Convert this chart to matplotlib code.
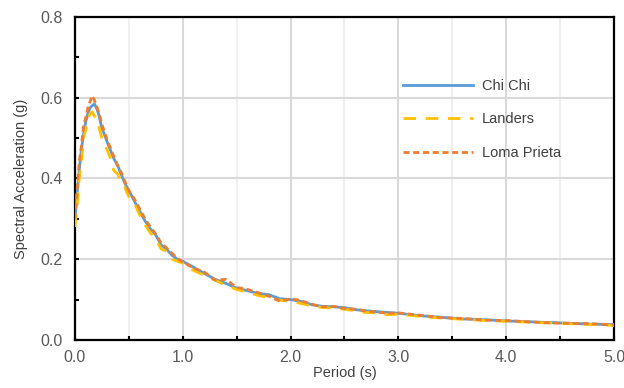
import matplotlib
matplotlib.use("Agg")
import matplotlib.pyplot as plt
from matplotlib.ticker import MultipleLocator, FormatStrFormatter

# Response spectra
periods = [0.0, 0.02, 0.04, 0.06, 0.08, 0.1, 0.12, 0.14, 0.16, 0.18, 0.2, 0.22,
           0.25, 0.28, 0.3, 0.33, 0.36, 0.4, 0.43, 0.46, 0.5, 0.55, 0.6, 0.65,
           0.7, 0.75, 0.8, 0.85, 0.9, 0.95, 1.0, 1.1, 1.2, 1.3, 1.4, 1.5, 1.6,
           1.7, 1.8, 1.9, 2.0, 2.1, 2.2, 2.3, 2.4, 2.5, 2.6, 2.7, 2.8, 2.9, 3.0,
           3.2, 3.4, 3.6, 3.8, 4.0, 4.2, 4.4, 4.6, 4.8, 5.0]

chi_chi = [0.30, 0.36, 0.42, 0.47, 0.51, 0.54, 0.56, 0.575, 0.58, 0.585, 0.575, 0.56,
           0.525, 0.505, 0.49, 0.47, 0.45, 0.43, 0.41, 0.39, 0.37, 0.345, 0.32, 0.295,
           0.275, 0.26, 0.235, 0.225, 0.21, 0.20, 0.195, 0.18, 0.165, 0.15, 0.14, 0.128, 0.122,
           0.115, 0.112, 0.102, 0.100, 0.095, 0.087, 0.083, 0.082, 0.080, 0.075, 0.072, 0.070, 0.068, 0.066,
           0.060, 0.056, 0.052, 0.050, 0.047, 0.045, 0.043, 0.041, 0.039, 0.038]

landers = [0.28, 0.33, 0.40, 0.44, 0.50, 0.52, 0.545, 0.56, 0.565, 0.555, 0.55, 0.53,
           0.50, 0.48, 0.47, 0.45, 0.42, 0.41, 0.385, 0.38, 0.355, 0.34, 0.31, 0.285,
           0.265, 0.25, 0.225, 0.22, 0.20, 0.195, 0.19, 0.172, 0.16, 0.148, 0.135, 0.125, 0.118,
           0.11, 0.105, 0.098, 0.097, 0.09, 0.084, 0.08, 0.079, 0.076, 0.072, 0.068, 0.067, 0.062, 0.064,
           0.058, 0.054, 0.051, 0.048, 0.046, 0.044, 0.042, 0.040, 0.038, 0.036]

loma_prieta = [0.30, 0.37, 0.44, 0.48, 0.53, 0.55, 0.575, 0.59, 0.605, 0.595, 0.58, 0.565,
               0.535, 0.51, 0.495, 0.475, 0.455, 0.43, 0.415, 0.395, 0.37, 0.35, 0.325, 0.30,
               0.28, 0.262, 0.24, 0.228, 0.215, 0.202, 0.193, 0.178, 0.168, 0.148, 0.150, 0.13, 0.125,
               0.117, 0.108, 0.096, 0.102, 0.097, 0.088, 0.082, 0.083, 0.078, 0.076, 0.072, 0.069, 0.066, 0.067,
               0.061, 0.055, 0.053, 0.049, 0.048, 0.045, 0.042, 0.041, 0.040, 0.037]


def plot_spectra():
    plt.rcParams["font.family"] = ["Liberation Sans", "DejaVu Sans"]
    fig = plt.figure(figsize=(6.24, 3.88), dpi=100)
    ax = fig.add_axes([0.120, 0.124, 0.864, 0.832])

    ax.plot(periods, chi_chi, color="#5B9BD5", lw=2.0, label="Chi Chi", zorder=3)
    ax.plot(periods, landers, color="#FFC000", lw=2.0, dashes=(4.5, 3.5), label="Landers", zorder=3)
    ax.plot(periods, loma_prieta, color="#ED7D31", lw=2.0, dashes=(2.2, 1.3), label="Loma Prieta", zorder=4)

    ax.set_xlim(0, 5)
    ax.set_ylim(0, 0.8)
    ax.xaxis.set_major_locator(MultipleLocator(1.0))
    ax.xaxis.set_minor_locator(MultipleLocator(0.5))
    ax.yaxis.set_major_locator(MultipleLocator(0.2))
    ax.yaxis.set_minor_locator(MultipleLocator(0.1))
    ax.xaxis.set_major_formatter(FormatStrFormatter("%.1f"))
    ax.yaxis.set_major_formatter(FormatStrFormatter("%.1f"))

    ax.grid(which="major", axis="both", color="#D9D9D9", lw=1.5, zorder=0)
    ax.grid(which="minor", axis="x", color="#F0F0F0", lw=1.5, zorder=0)
    ax.set_axisbelow(True)

    for s in ax.spines.values():
        s.set_linewidth(1.6)
        s.set_color("black")

    ax.tick_params(which="both", direction="in", length=3, width=1.5, colors="black",
                   labelcolor="#595959", labelsize=11.5, top=False, right=False)
    ax.tick_params(axis="x", which="major", pad=7)
    ax.tick_params(axis="y", which="major", pad=9)

    ax.set_xlabel("Period (s)", fontsize=10.5, color="#404040", labelpad=1)
    ax.set_ylabel("Spectral Acceleration (g)", fontsize=10.5, color="#404040", labelpad=9)

    ax.legend(loc="upper left", bbox_to_anchor=(0.585, 0.85), frameon=False,
              fontsize=10.5, handlelength=4.8, handletextpad=0.6, labelspacing=1.35,
              labelcolor="#404040")

    fig.savefig("out.png", dpi=100)


def main():
    plot_spectra()


if __name__ == '__main__':
    main()
